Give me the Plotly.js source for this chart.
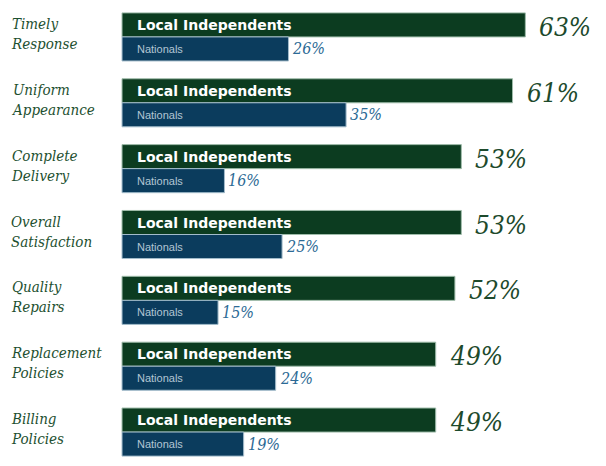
<!DOCTYPE html>
<html>
<head>
<meta charset="utf-8">
<script src="https://cdn.plot.ly/plotly-3.0.1.min.js"></script>
<style>
  html, body { margin: 0; padding: 0; background: #fff; }
  #chart { width: 606px; height: 466px; }
</style>
</head>
<body>
<div id="chart"></div>
<script>
// Survey categories, top to bottom
const categories = [
    'Timely<br>Response',
    'Uniform<br>Appearance',
    'Complete<br>Delivery',
    'Overall<br>Satisfaction',
    'Quality<br>Repairs',
    'Replacement<br>Policies',
    'Billing<br>Policies'
];
const catKeys = ['timely', 'uniform', 'complete', 'overall', 'quality', 'replacement', 'billing'];

// Percent of respondents
const localValues = [63, 61, 53, 53, 52, 49, 49];
const nationalValues = [26, 35, 16, 25, 15, 24, 19];

const localName = 'Local Independents';
const nationalName = 'Nationals';

const GREEN = '#0c3c20';
const NAVY = '#0b3c5d';
const SERIF = 'DejaVu Serif Condensed, DejaVu Serif';

const traces = [
    {
        type: 'bar',
        orientation: 'h',
        name: localName,
        y: catKeys,
        x: localValues,
        marker: { color: GREEN, line: { color: '#9fbcaa', width: 1 } },
        hoverinfo: 'skip'
    },
    {
        type: 'bar',
        orientation: 'h',
        name: nationalName,
        y: catKeys,
        x: nationalValues,
        marker: { color: NAVY, line: { color: '#a3bccb', width: 1 } },
        hoverinfo: 'skip'
    }
];

const annotations = [];
catKeys.forEach((key, i) => {
    // category label on the left
    annotations.push({
        text: categories[i],
        xref: 'paper', x: 9 / 606, xanchor: 'left',
        y: key, yanchor: 'middle', yshift: 3,
        align: 'left', showarrow: false,
        font: { family: SERIF, style: 'italic', size: 15, color: '#1d5030' }
    });
    // in-bar labels
    annotations.push({
        text: localName,
        x: 0, xanchor: 'left', xshift: 13,
        y: key, yanchor: 'middle', yshift: 12,
        showarrow: false,
        font: { family: 'DejaVu Sans', size: 14, color: '#ffffff', weight: 'bold' }
    });
    annotations.push({
        text: nationalName,
        x: 0, xanchor: 'left', xshift: 13,
        y: key, yanchor: 'middle', yshift: -12,
        showarrow: false,
        font: { family: 'Liberation Sans', size: 11, color: '#b3c6d4' }
    });
    // percentages
    annotations.push({
        text: localValues[i] + '%',
        x: localValues[i], xanchor: 'left', xshift: 12,
        y: key, yanchor: 'middle', yshift: 10,
        showarrow: false,
        font: { family: SERIF, style: 'italic', size: 26, color: '#1d4a2c' }
    });
    annotations.push({
        text: nationalValues[i] + '%',
        x: nationalValues[i], xanchor: 'left', xshift: 2,
        y: key, yanchor: 'middle', yshift: -12,
        showarrow: false,
        font: { family: SERIF, style: 'italic', size: 16, color: '#2c6a95' }
    });
});

const layout = {
    width: 606,
    height: 466,
    paper_bgcolor: '#ffffff',
    plot_bgcolor: '#ffffff',
    margin: { l: 0, r: 0, t: 4, b: 1 },
    showlegend: false,
    barmode: 'group',
    bargap: 0.27,
    bargroupgap: 0,
    hovermode: false,
    xaxis: {
        range: [-19.06, 75.6],
        showgrid: false, zeroline: false, showticklabels: false, showline: false, ticks: ''
    },
    yaxis: {
        type: 'category',
        autorange: 'reversed',
        showgrid: false, zeroline: false, showticklabels: false, showline: false, ticks: ''
    },
    annotations: annotations
};

Plotly.newPlot('chart', traces, layout, { staticPlot: true, displayModeBar: false });
</script>
</body>
</html>
